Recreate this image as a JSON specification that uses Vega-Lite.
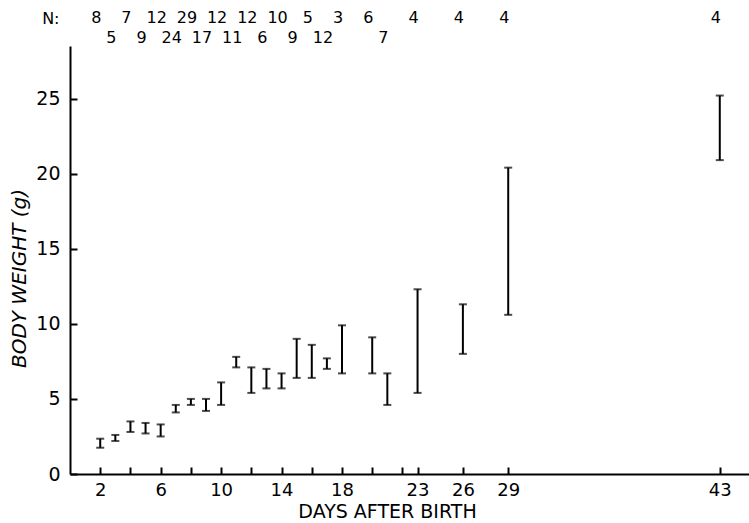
{
  "$schema": "https://vega.github.io/schema/vega-lite/v6.json",
  "padding": {"left": 9, "top": 0, "right": 0, "bottom": 0},
  "background": "white",
  "spacing": 0,
  "config": {"view": {"stroke": null}, "font": "DejaVu Sans", "text": {"font": "DejaVu Sans"}},
  "data": {
    "values": [
      {"day": 2, "lo": 1.75, "hi": 2.35, "n": 8, "row": "top"},
      {"day": 3, "lo": 2.2, "hi": 2.6, "n": 5, "row": "bottom"},
      {"day": 4, "lo": 2.8, "hi": 3.5, "n": 7, "row": "top"},
      {"day": 5, "lo": 2.7, "hi": 3.4, "n": 9, "row": "bottom"},
      {"day": 6, "lo": 2.5, "hi": 3.3, "n": 12, "row": "top"},
      {"day": 7, "lo": 4.1, "hi": 4.6, "n": 24, "row": "bottom"},
      {"day": 8, "lo": 4.6, "hi": 5.0, "n": 29, "row": "top"},
      {"day": 9, "lo": 4.2, "hi": 5.0, "n": 17, "row": "bottom"},
      {"day": 10, "lo": 4.6, "hi": 6.1, "n": 12, "row": "top"},
      {"day": 11, "lo": 7.1, "hi": 7.8, "n": 11, "row": "bottom"},
      {"day": 12, "lo": 5.4, "hi": 7.1, "n": 12, "row": "top"},
      {"day": 13, "lo": 5.7, "hi": 7.0, "n": 6, "row": "bottom"},
      {"day": 14, "lo": 5.7, "hi": 6.7, "n": 10, "row": "top"},
      {"day": 15, "lo": 6.4, "hi": 9.0, "n": 9, "row": "bottom"},
      {"day": 16, "lo": 6.4, "hi": 8.6, "n": 5, "row": "top"},
      {"day": 17, "lo": 7.0, "hi": 7.7, "n": 12, "row": "bottom"},
      {"day": 18, "lo": 6.7, "hi": 9.9, "n": 3, "row": "top"},
      {"day": 20, "lo": 6.7, "hi": 9.1, "n": 6, "row": "top"},
      {"day": 21, "lo": 4.6, "hi": 6.7, "n": 7, "row": "bottom"},
      {"day": 23, "lo": 5.4, "hi": 12.3, "n": 4, "row": "top"},
      {"day": 26, "lo": 8.0, "hi": 11.3, "n": 4, "row": "top"},
      {"day": 29, "lo": 10.6, "hi": 20.4, "n": 4, "row": "top"},
      {"day": 43, "lo": 20.9, "hi": 25.2, "n": 4, "row": "top"}
    ]
  },
  "vconcat": [
    {
      "width": 680,
      "height": 45,
      "mark": {"type": "text", "fontSize": 16, "dx": -4, "color": "black", "baseline": "middle", "align": "center"},
      "encoding": {
        "x": {"field": "day", "type": "quantitative", "scale": {"domain": [0, 45], "nice": false, "zero": false}, "axis": null},
        "y": {
          "field": "row", "type": "ordinal", "sort": ["top", "bottom"],
          "scale": {"type": "point", "padding": 0.625, "align": 0.72},
          "axis": {"title": null, "domain": false, "ticks": false, "grid": false, "labelExpr": "datum.value == 'top' ? 'N:' : ''", "labelFontSize": 16, "labelColor": "black", "labelPadding": 11, "labelFont": "DejaVu Sans"}
        },
        "text": {"field": "n", "type": "nominal"}
      }
    },
    {
      "width": 680,
      "height": 428,
      "encoding": {
        "x": {
          "field": "day", "type": "quantitative",
          "scale": {"domain": [0, 45], "nice": false, "zero": false},
          "axis": {
            "values": [2, 4, 6, 8, 10, 12, 14, 16, 18, 20, 22, 23, 26, 29, 43],
            "labelExpr": "indexof([2, 6, 10, 14, 18, 23, 26, 29, 43], datum.value) >= 0 ? datum.label : ''",
            "tickSize": -7, "tickWidth": 2, "tickColor": "black",
            "domainColor": "black", "domainWidth": 2,
            "labelFontSize": 18, "labelColor": "black", "labelPadding": 14, "labelFont": "DejaVu Sans",
            "labelFlush": false, "labelOverlap": false, "grid": false,
            "title": "DAYS AFTER BIRTH", "titleFontSize": 19, "titleFontWeight": "normal", "titleColor": "black", "titleFont": "DejaVu Sans",
            "titleX": 317, "titlePadding": 3
          }
        }
      },
      "layer": [
        {
          "mark": {"type": "rule", "color": "black", "strokeWidth": 2},
          "encoding": {
            "y": {
              "field": "lo", "type": "quantitative",
              "scale": {"domain": [0, 28.5], "nice": false, "zero": true},
              "axis": {
                "values": [0, 5, 10, 15, 20, 25],
                "tickSize": -7, "tickWidth": 2, "tickColor": "black",
                "domainColor": "black", "domainWidth": 2,
                "labelFontSize": 19, "labelColor": "black", "labelPadding": 17, "labelFont": "DejaVu Sans",
                "labelFlush": false, "grid": false,
                "title": "BODY WEIGHT (g)", "titleFontSize": 20, "titleFontStyle": "italic", "titleFontWeight": "normal", "titleColor": "black", "titleFont": "DejaVu Sans",
                "titleY": 232, "titlePadding": 6
              }
            },
            "y2": {"field": "hi"}
          }
        },
        {
          "mark": {"type": "tick", "orient": "horizontal", "color": "black", "size": 8, "thickness": 2},
          "encoding": {"y": {"field": "lo", "type": "quantitative"}}
        },
        {
          "mark": {"type": "tick", "orient": "horizontal", "color": "black", "size": 8, "thickness": 2},
          "encoding": {"y": {"field": "hi", "type": "quantitative"}}
        }
      ]
    }
  ]
}
